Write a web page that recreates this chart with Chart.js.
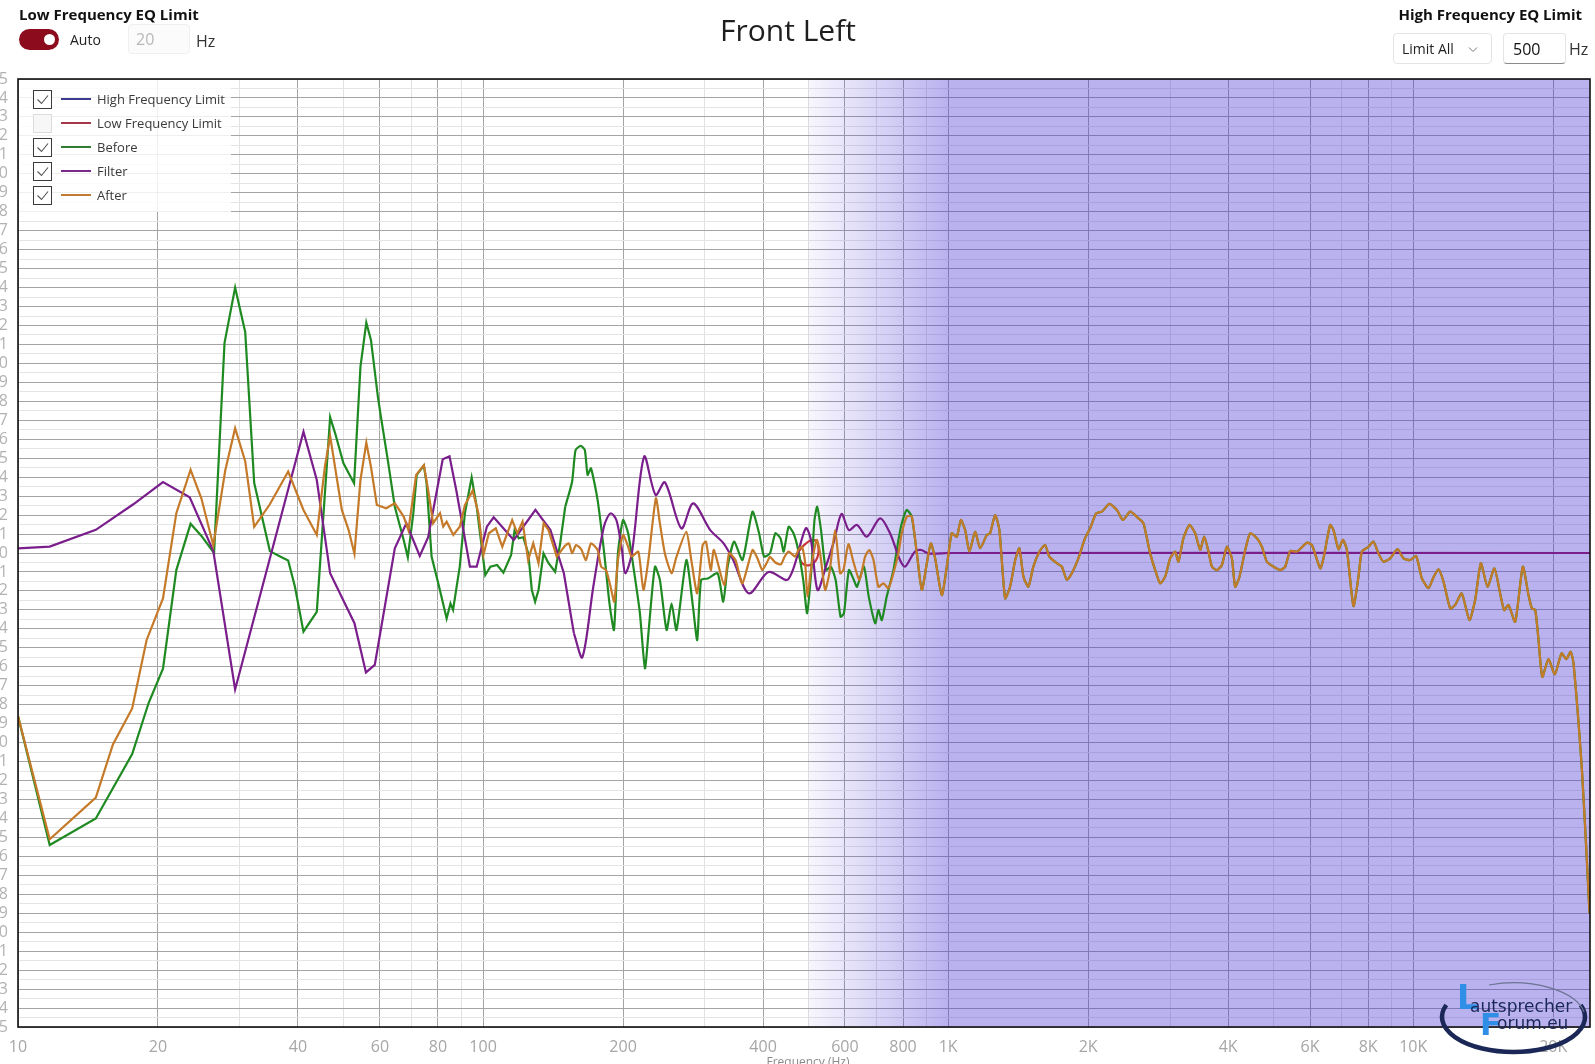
<!DOCTYPE html>
<html>
<head>
<meta charset="utf-8">
<title>Front Left</title>
<script src="https://cdn.jsdelivr.net/npm/chart.js@4.4.1/dist/chart.umd.min.js"></script>
<style>
  html, body { margin:0; padding:0; background:#fff; width:1595px; height:1064px; overflow:hidden;
    font-family:"Open Sans","Noto Sans","DejaVu Sans",sans-serif; }
  #chartWrap { position:absolute; left:-40px; top:0; width:1635px; height:1064px; }
  .abs { position:absolute; white-space:nowrap; }
  .hdr { font-weight:700; font-size:15px; color:#111; line-height:20px; }
  .box { position:absolute; box-sizing:border-box; border:1px solid #e4e4e4; border-radius:4px; background:#fff; }
  #legend { position:absolute; left:19px; top:80px; width:212px; height:132px; background:rgba(255,255,255,0.82); }
  .cb { position:absolute; left:14px; width:19px; height:19px; box-sizing:border-box; border:1px solid #3a3a3a; background:#fff; }
  .cb.off { border-color:#dcdcdc; background:#f7f7f7; }
  .ln { position:absolute; left:42px; width:30px; height:2px; }
  .lt { position:absolute; left:78px; font-size:13px; line-height:18px; color:#3a3a3a; }
  .logo { position:absolute; white-space:nowrap; font-family:'DejaVu Sans','Liberation Sans',sans-serif; }
</style>
</head>
<body>
<div id="chartWrap"><canvas id="c" width="1635" height="1064"></canvas></div>

<!-- top left controls -->
<div class="abs hdr" style="left:19px;top:4px;">Low Frequency EQ Limit</div>
<div class="abs" style="left:19px;top:29px;width:40px;height:21px;border-radius:11px;background:#8c0b1c;"></div>
<div class="abs" style="left:44px;top:34px;width:11px;height:11px;border-radius:50%;background:#fff;"></div>
<div class="abs" style="left:70px;top:30px;font-size:14px;line-height:20px;color:#222;">Auto</div>
<div class="box" style="left:128px;top:24px;width:62px;height:30px;background:#fbfbfb;border-color:#efefef;">
  <span class="abs" style="left:7px;top:3px;font-size:16px;line-height:22px;color:#b8b8b8;">20</span>
</div>
<div class="abs" style="left:196px;top:30px;font-size:16px;line-height:22px;color:#333;">Hz</div>

<!-- title -->
<div class="abs" style="left:588px;width:400px;text-align:center;top:10px;font-size:30px;line-height:40px;color:#1e1e1e;">Front Left</div>

<!-- top right controls -->
<div class="abs hdr" style="left:1374px;width:208px;text-align:right;top:4px;">High Frequency EQ Limit</div>
<div class="box" style="left:1393px;top:33px;width:99px;height:31px;">
  <span class="abs" style="left:8px;top:5px;font-size:14px;line-height:20px;color:#222;">Limit All</span>
  <svg class="abs" style="left:74px;top:12px;" width="10" height="7"><polyline points="1,1.5 5,5.5 9,1.5" fill="none" stroke="#777" stroke-width="1"/></svg>
</div>
<div class="box" style="left:1503px;top:33px;width:63px;height:31px;border-bottom-color:#8a8a8a;">
  <span class="abs" style="left:9px;top:4px;font-size:16px;line-height:22px;color:#111;">500</span>
</div>
<div class="abs" style="left:1569px;top:38px;font-size:16px;line-height:22px;color:#333;">Hz</div>

<!-- legend -->
<div id="legend"></div>

<!-- axis title -->
<div class="abs" style="left:708px;width:200px;text-align:center;top:1054px;font-size:12px;line-height:16px;color:#8a8a8a;">Frequency (Hz)</div>

<!-- logo -->
<svg class="abs" style="left:1430px;top:975px;" width="165" height="89">
  <path d="M 150.7 30.0 A 71.5 35 0 1 1 16.3 30.0" fill="none" stroke="#1b2756" stroke-width="4.5"/>
  <path d="M 59 10 A 71.5 35 0 0 1 154 37" fill="none" stroke="#6a7390" stroke-width="1.2"/>
</svg>
<div class="logo" style="left:1457px;top:979px;font-size:33px;line-height:38px;font-weight:700;color:#2f8fe6;">L</div>
<div class="logo" style="left:1470px;top:995px;font-size:17px;line-height:22px;color:#1b2756;">autsprecher</div>
<div class="logo" style="left:1480px;top:1005px;font-size:31px;line-height:38px;font-weight:700;color:#2f8fe6;">F</div>
<div class="logo" style="left:1497px;top:1012px;font-size:17px;line-height:22px;color:#1b2756;">orum.eu</div>

<script>
// ---------------- data ----------------
const legendNames  = ['High Frequency Limit','Low Frequency Limit','Before','Filter','After'];
const legendColors = ['#3b3b8f','#a8364a','#2e7d32','#7b2a8c','#c07a35'];
const legendChecked = [true,false,true,true,true];

const xTickValues = [10,20,30,40,50,60,70,80,90,100,200,300,400,500,600,700,800,900,
                     1000,2000,3000,4000,5000,6000,7000,8000,9000,10000,20000];
const xTickLabels = ['10','20','','40','','60','','80','','100','200','','400','','600','','800','',
                     '1K','2K','','4K','','6K','','8K','','10K','20K'];
const xMin = 10, xMax = 24000;
const yMin = -25, yMax = 25, yStep = 0.5;
const shadeStartHz = 500, shadeFullHz = 1000;
const sparseBelowHz = 150;   // below this the measurement points are sparse (straight segments)

const filterFreq = [10,11.7,14.7,17.7,20.5,23.4,26.3,29.3,41.1,43.9,
  46.9,52.9,56,58.5,64.6,68.4,73.1,76.2,81.9,84.7,
  87.6,93.7,96.9,101.9,105.4,116.4,129.6,139.6,149.2,156.8,
  163.5,172.6,181.9,188,193.5,198.9,202.2,208.9,222,235,
  246,267,283,308,329,345,373,411,453,494,
  507,524,546,568,590,612,637,669,714,750,
  788,808,848,876,905,1000,24000];
const filterDb = [0.24,0.34,1.22,2.57,3.74,2.94,0.1,-7.2,6.4,3.85,
  -1.07,-3.7,-6.3,-5.9,0.25,1.57,-0.16,0.83,4.94,5.1,
  3.3,-0.72,-0.72,1.39,1.88,0.69,2.27,1.21,-1.07,-4.24,
  -5.5,-1.78,1.39,2.09,1.74,0.16,-1.07,-0.02,5.08,3.06,
  3.73,1.3,2.62,1.21,0.51,-0.37,-2.13,-1.0,-1.39,1.3,
  0.69,-1.95,-0.72,0.6,2.06,1.21,1.48,0.86,1.83,1.04,
  -0.37,-0.72,0.07,0.16,-0.02,0,0];

const beforeFreq = [10,11.7,14.7,17.6,19.1,20.5,21.9,23.5,24.8,26.4,
  27.8,29.3,30.8,32.2,34.8,36.7,38.1,39.4,41.1,43.9,
  46.9,48.1,50.1,52.8,54.5,56.1,57.4,59.4,60.3,62.4,
  64.6,67.5,68.9,70.8,72,74.6,75.6,77.5,80.1,83.5,
  85.1,86.2,89.1,91.4,94.5,96.9,98.5,101.1,103.7,107.2,
  110.6,114.9,116.9,119.3,122,125.1,127.3,129.4,131.6,134.9,
  138.3,142.9,146.5,150.2,155.4,158.1,162.2,165.5,167.8,170.6,
  176.3,182.2,187,191.2,195,200,205.1,212,217.4,222.9,
  227.4,234.2,240,248.1,254.3,260.6,273.6,282.7,288.7,294.3,
  304.3,319.5,328.4,335.7,346.6,361.3,379.6,392.2,402,414,
  425,436,443,454,465,476,488,497.5,508,516,
  523,533,546,559.6,573,587,597,612,627,637,
  659,675,697,708,720,738,763,782,795,815,
  835,856.5];
const beforeDb = [-8.6,-15.4,-14.0,-10.6,-7.9,-6.1,-0.9,1.54,0.9,0.0,
  11.07,14.0,11.66,3.7,0.1,-0.2,-0.4,-1.78,-4.15,-3.1,
  7.16,6.3,4.73,3.68,9.83,12.15,11.24,8.25,7.19,4.9,
  2.44,0.69,-0.23,2.1,4.12,4.61,3.68,-0.19,-1.6,-3.45,
  -2.66,-3.0,-0.72,2.1,3.99,2.44,1.04,-1.16,-0.72,-0.63,
  -1.04,-0.1,1.21,0.78,0.83,-0.02,-1.95,-2.57,-1.95,-0.02,
  -0.54,-0.99,0.51,2.44,3.76,5.43,5.65,5.43,4.12,4.47,
  2.8,-0.02,-2.66,-4.06,-0.02,1.74,1.04,-1.25,-3.18,-6.08,
  -3.89,-0.72,-1.42,-4.06,-2.66,-4.06,-0.37,-2.83,-4.59,-1.42,
  -1.34,-1.07,-2.57,-0.72,0.6,-0.37,2.18,1.04,-0.19,-0.02,
  1.04,0.78,0.07,1.39,1.04,0.16,-1.42,-3.18,-0.9,1.74,
  2.44,1.21,-0.9,-0.72,-1.42,-3.36,-3.18,-0.9,-1.42,-1.78,
  -0.72,-2.3,-3.71,-3.0,-3.54,-2.3,-0.9,0.69,1.57,2.27,
  1.92,-0.02];

const afterFreq = [10,11.7,14.7,16,17.6,18.9,20.5,21.9,23.5,24.8,
  26.3,27.9,29.3,30.8,32.2,34.8,38.1,41.1,43.9,45.7,
  46.9,49.7,51.4,52.9,54.5,56.1,57.4,59.1,61.9,64.6,
  67.5,69.1,71.8,74.6,76.2,78.1,80.8,82.1,83.5,86.3,
  89.1,91.4,95,97.7,100.2,102.9,106.5,110,115.5,118.5,
  121.6,125,128.2,131.6,135,138.3,144,147,150.5,153,
  155.4,158.5,162.5,166.4,170.6,176.3,179.4,183.8,188,191.5,
  195,200,205.1,208.6,215.7,221.2,226.7,235.3,240,246,
  254.3,260.6,273.6,280.4,288.7,296.6,301.5,308.8,313.6,330,
  338,349,361,379.6,389,398.6,408.6,414,425,437,
  445,454,468.8,476.6,484.8,492.8,498.3,509.3,522,530.6,
  543.9,555.5,571.5,585.8,595.5,610.4,625.6,644.8,663,677,
  691,708,726,744,762.7,781.7,795,815,835.6,856.5];
const afterDb = [-8.6,-15.1,-12.9,-10.1,-8.2,-4.6,-2.4,2.1,4.39,2.87,
  0.4,4.35,6.58,4.84,1.38,2.57,4.3,2.27,0.95,4.55,
  6.17,2.27,1.21,-0.05,3.85,5.82,4.55,2.53,2.36,2.62,
  1.92,1.21,4.12,4.64,3.32,1.57,2.1,1.39,1.65,0.95,
  1.39,2.53,3.29,2.1,-0.1,1.04,1.3,0.33,1.74,1.04,
  1.65,-0.37,0.51,-0.54,1.57,1.21,-0.19,0.1,0.42,0.51,
  -0.02,0.42,0.2,-0.37,0.51,0.16,-0.72,-0.9,-1.78,-2.57,
  -0.37,0.95,0.33,-0.19,0.07,-1.95,-0.37,2.89,1.57,-0.02,
  -1.07,-0.19,1.12,-0.37,-2.13,0.42,0.6,-0.9,0.16,-1.69,
  -0.02,-0.37,-1.6,0.16,-0.28,-0.9,-0.46,-0.2,-0.5,-0.6,
  -0.2,0.07,-0.19,0.16,0.33,-0.54,-2.3,-0.54,0.69,-0.02,
  -1.95,-1.07,1.21,-1.07,-0.9,0.47,-0.46,-1.42,-0.19,0.16,
  -0.37,-1.78,-1.6,-1.86,-1.07,-0.02,1.04,1.92,1.92,-0.02];

// above ~870 Hz the filter is flat, so Before and After share the same response
const highFreq = [877.9,900,918,937.6,969.3,993.6,1018,1044,1065,1088,
  1111,1143,1172,1211,1231,1262,1289,1326,1359,1394,
  1423,1452,1488,1525,1571,1616,1651,1713,1756,1800,
  1845,1906,1970,2020,2081,2141,2223,2306,2375,2463,
  2566,2630,2719,2788,2857,2929,3002,3077,3128,3206,
  3303,3398,3483,3553,3630,3692,3784,3879,3976,4075,
  4142,4232,4354,4462,4613,4728,4847,5008,5176,5306,
  5439,5623,5907,6057,6310,6414,6630,6740,6910,7062,
  7203,7440,7627,7756,8013,8214,8420,8631,8922,9252,
  9531,9851,10150,10440,10790,11030,11330,11620,12010,12310,
  12720,13210,13590,13980,14450,14950,15380,15690,16030,16570,
  17210,17700,18000,18300,18600,18950,19540,20170,20840,21350,
  21800,22120,23060,23630,23940];
const highDb = [-1.95,-0.54,0.51,-0.28,-2.22,-0.72,1.04,0.86,1.74,1.21,
  0.07,1.12,0.25,0.95,1.04,2.0,1.21,-2.39,-1.78,-0.37,
  0.25,-1.25,-1.78,-0.72,0.07,0.42,-0.19,-0.54,-0.72,-1.42,
  -1.07,-0.28,0.78,1.3,2.09,2.18,2.59,2.27,1.74,2.18,
  1.83,1.57,-0.02,-0.9,-1.6,-1.25,-0.28,0.07,-0.46,0.78,
  1.48,1.04,0.16,0.86,0.07,-0.72,-0.9,-0.63,0.33,-0.28,
  -1.78,-1.25,0.16,1.04,0.78,0.33,-0.46,-0.72,-0.9,-0.72,
  0.1,0.07,0.54,0.42,-0.81,-0.28,1.48,1.21,0.2,0.69,
  0.16,-2.8,-1.25,0.07,0.33,0.6,-0.02,-0.46,-0.28,0.2,
  -0.28,-0.37,-0.16,-1.34,-1.86,-1.34,-0.86,-1.51,-2.92,-2.74,
  -2.13,-3.54,-2.48,-0.54,-1.78,-0.81,-2.13,-3.01,-2.74,-3.63,
  -0.72,-2.22,-2.92,-3.01,-4.59,-6.53,-5.6,-6.4,-5.29,-5.6,
  -5.21,-5.82,-11.45,-16.2,-19.0];

// small red limit marker loop near 500 Hz
const markFreq = [476,495,513,525,523,505,485,476];
const markDb   = [0.07,0.51,0.69,0.42,-0.26,-0.63,-0.53,0.07];

// ---------------- build ----------------
const pts = (f, d) => f.map((x, i) => ({ x: x, y: d[i] }));
const beforePts = pts(beforeFreq, beforeDb).concat(pts(highFreq, highDb));
const afterPts  = pts(afterFreq, afterDb).concat(pts(highFreq, highDb));
const filterPts = pts(filterFreq, filterDb);
// split a series into its sparse low part and dense upper part (sharing one boundary point)
const splitLow  = p => { const i = p.findIndex(q => q.x >= sparseBelowHz); return p.slice(0, i + 1); };
const splitHigh = p => { const i = p.findIndex(q => q.x >= sparseBelowHz); return p.slice(i); };

const yTickValues = [];
for (let v = yMin; v <= yMax + 1e-9; v += yStep) yTickValues.push(Math.round(v * 10) / 10);
const xLabelOf = v => { const i = xTickValues.indexOf(v); return i < 0 ? '' : xTickLabels[i]; };

// legend (HTML)
const lg = document.getElementById('legend');
legendNames.forEach((n, i) => {
  const cy = 19 + 24 * i;
  const cb = document.createElement('div');
  cb.className = 'cb' + (legendChecked[i] ? '' : ' off');
  cb.style.top = (cy - 9.5) + 'px';
  if (legendChecked[i]) cb.innerHTML = '<svg width="17" height="17" style="position:absolute;left:0;top:0"><polyline points="3.5,8.5 7.5,12.5 14,4.5" fill="none" stroke="#555" stroke-width="1.1"/></svg>';
  lg.appendChild(cb);
  const ln = document.createElement('div');
  ln.className = 'ln'; ln.style.top = (cy - 1) + 'px'; ln.style.background = legendColors[i];
  lg.appendChild(ln);
  const t = document.createElement('div');
  t.className = 'lt'; t.style.top = (cy - 9.5) + 'px'; t.textContent = n;
  lg.appendChild(t);
});

const shadePlugin = {
  id: 'shade',
  beforeDatasetsDraw(chart) {
    const { ctx, chartArea: a, scales: { x } } = chart;
    const x0 = x.getPixelForValue(shadeStartHz), x1 = x.getPixelForValue(shadeFullHz);
    ctx.save();
    ctx.beginPath(); ctx.rect(a.left, a.top, a.width, a.height); ctx.clip();
    const g = ctx.createLinearGradient(x0, 0, x1, 0);
    g.addColorStop(0, 'rgba(72,52,212,0.04)');
    g.addColorStop(1, 'rgba(72,52,212,0.38)');
    ctx.fillStyle = g; ctx.fillRect(x0, a.top, x1 - x0, a.height);
    ctx.fillStyle = 'rgba(72,52,212,0.38)'; ctx.fillRect(x1, a.top, a.right - x1, a.height);
    ctx.restore();
  }
};
const borderPlugin = {
  id: 'frame',
  afterDraw(chart) {
    const { ctx, chartArea: a } = chart;
    ctx.save(); ctx.strokeStyle = '#111'; ctx.lineWidth = 1.6;
    ctx.strokeRect(a.left, a.top, a.width, a.height); ctx.restore();
  }
};

const lineDs = (label, data, color, order, tension) => ({
  label, data, borderColor: color, backgroundColor: color, borderWidth: 2.2,
  pointRadius: 0, tension: tension, fill: false, order
});
const cAfter = '#c47a28', cFilter = '#7a1e8c', cBefore = '#1f8a22';

new Chart(document.getElementById('c'), {
  type: 'line',
  data: {
    datasets: [
      lineDs('After', splitLow(afterPts), cAfter, 0, 0),
      lineDs('After', splitHigh(afterPts), cAfter, 0, 0.2),
      lineDs('Filter', splitLow(filterPts), cFilter, 1, 0),
      lineDs('Filter', splitHigh(filterPts), cFilter, 1, 0.3),
      lineDs('Before', splitLow(beforePts), cBefore, 2, 0),
      lineDs('Before', splitHigh(beforePts), cBefore, 2, 0.2),
      lineDs('Limit marker', pts(markFreq, markDb), '#c8343a', 3, 0.45)
    ]
  },
  options: {
    responsive: false, animation: false, devicePixelRatio: 1,
    layout: { padding: { top: 79, right: 5, bottom: 0, left: 0 } },
    plugins: { legend: { display: false }, tooltip: { enabled: false } },
    scales: {
      x: {
        type: 'logarithmic', min: xMin, max: xMax,
        afterBuildTicks: s => { s.ticks = xTickValues.map(v => ({ value: v })); },
        afterFit: s => { s.height = 37; },
        ticks: { autoSkip: false, maxRotation: 0, minRotation: 0, padding: 11,
          color: '#a6a6a6', font: { size: 16, family: 'Open Sans' },
          callback: v => xLabelOf(v) },
        grid: { drawTicks: false, lineWidth: 1,
          color: c => (xLabelOf(c.tick.value) !== '' ? '#a4a4a4' : '#e2e2e2') },
        border: { display: false }
      },
      y: {
        type: 'linear', min: yMin, max: yMax,
        afterBuildTicks: s => { s.ticks = yTickValues.map(v => ({ value: v })); },
        afterFit: s => { s.width = 58; },
        ticks: { autoSkip: false, padding: 10, color: '#b2b2b2', font: { size: 16, family: 'Open Sans' },
          callback: v => (Number.isInteger(v) ? String(v) : '') },
        grid: { drawTicks: false, lineWidth: 1,
          color: c => (Number.isInteger(c.tick.value) ? '#a4a4a4' : '#e4e4e4') },
        border: { display: false }
      }
    }
  },
  plugins: [shadePlugin, borderPlugin]
});
</script>
</body>
</html>
